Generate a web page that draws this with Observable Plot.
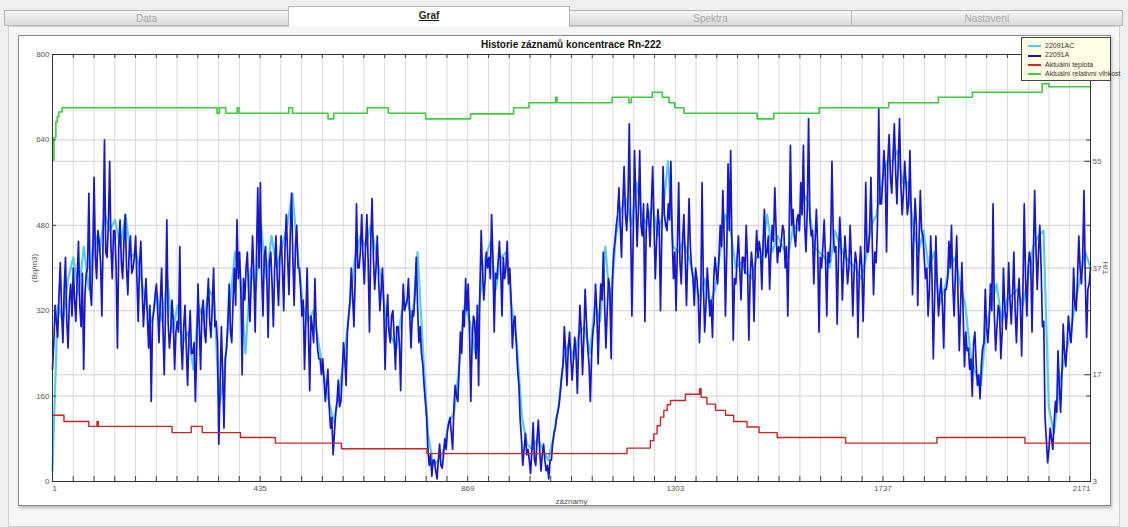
<!DOCTYPE html>
<html><head><meta charset="utf-8">
<script src="https://cdn.jsdelivr.net/npm/d3@7"></script>
<script src="https://cdn.jsdelivr.net/npm/@observablehq/plot@0.6"></script>
<style>
body{margin:0;width:1128px;height:527px;background:#efefef;font-family:"Liberation Sans",Arial,sans-serif;position:relative;overflow:hidden}
.tab{position:absolute;top:10px;height:16px;background:linear-gradient(#f6f6f6,#d9d9d9);border:1px solid #b8b8b8;color:#a8a8a8;font-size:10px;text-align:center;line-height:15px;box-sizing:border-box}
.tab.active{top:6px;height:21px;background:#fff;color:#222;font-weight:bold;text-decoration:underline;border-bottom:none;line-height:18px;z-index:2}
#panel{position:absolute;left:8px;top:26px;width:1112px;height:501px;background:#f6f6f6;border:1px solid #cfcfcf;box-sizing:border-box}
#box{position:absolute;left:18px;top:35px;width:1093px;height:471px;background:#fff;border:1px solid #8a8a8a;box-sizing:border-box;box-shadow:1px 2px 3px rgba(0,0,0,.25)}
#chart{position:absolute;left:18px;top:35px}
#title{position:absolute;left:371px;width:400px;top:39px;text-align:center;font-size:10px;font-weight:bold;color:#111}
#legend{position:absolute;left:1021px;top:37px;width:90px;height:44px;background:#fffde3;border:1px solid #444;box-sizing:border-box;font-size:7px;color:#333;padding-top:3px}
#legend div{height:9.4px;line-height:9.4px;white-space:nowrap}
#legend span{display:inline-block;width:13px;height:2px;vertical-align:middle;margin:0 4px 0 6px}
</style></head>
<body>
<div id="panel"></div>
<div class="tab" style="left:4px;width:285px">Data</div>
<div class="tab active" style="left:288px;width:282px">Graf</div>
<div class="tab" style="left:569px;width:283px">Spektra</div>
<div class="tab" style="left:851px;width:272px">Nastavení</div>
<div id="box"></div>
<div id="chart"></div>
<div id="title">Historie záznamů koncentrace Rn-222</div>
<div id="legend"></div>
<script>
// ---- data ----
const seriesNames = ["22091AC", "22091A", "Aktuální teplota", "Aktuální relativní vlhkost"];
const seriesColors = ["#55cdea", "#14149a", "#d42a2a", "#3fcb3f"];

// 22091A (Bq/m3), evenly spaced over records 1..2171 (16 readings per grid cell)
const valuesA = [
210,260,330,300,270,350,410,320,260,360,420,300,250,340,370,310,
400,340,300,380,450,330,290,390,210,350,390,400,540,360,330,420,
570,420,380,470,450,410,310,460,640,430,420,480,600,440,380,470,
470,400,250,440,490,410,380,450,500,400,350,430,460,390,400,420,
460,380,300,410,450,360,290,340,380,310,250,330,150,300,320,350,
370,320,260,340,400,290,200,320,490,300,250,280,340,300,210,280,
300,280,440,260,210,290,330,250,180,270,320,240,240,260,150,250,
370,290,210,320,340,280,260,330,380,300,270,330,400,290,300,260,
70,180,290,200,100,230,250,300,370,280,260,340,400,330,490,380,
430,360,200,380,340,400,430,350,300,380,460,390,280,420,550,400,
560,390,310,420,440,380,270,410,430,370,290,400,460,380,330,420,
460,400,320,440,500,420,350,460,540,420,330,440,480,400,400,360,
310,340,210,300,400,280,170,310,290,260,380,290,250,230,230,200,
230,190,150,180,210,140,100,120,50,90,130,150,190,140,150,200,
260,230,180,280,310,340,400,350,290,380,520,400,400,430,500,420,
370,440,500,410,280,450,530,420,360,400,460,380,320,360,400,330,
210,300,350,280,260,310,320,270,210,290,290,260,170,300,370,320,
330,340,380,310,250,320,310,350,420,330,260,290,240,220,180,150,
120,60,30,50,10,40,40,20,5,40,70,30,25,50,80,60,
95,110,120,90,60,140,180,160,150,210,280,240,320,290,380,320,
370,280,150,260,310,300,230,330,180,360,470,390,340,380,430,400,
420,380,500,420,280,390,380,410,450,400,310,420,380,400,450,370,
400,340,250,300,310,260,210,180,115,80,30,60,90,50,60,40,
15,60,110,40,30,80,115,60,20,50,70,40,20,30,5,40,
40,70,90,100,120,130,145,170,200,220,290,240,180,250,280,230,
190,230,270,240,165,260,330,280,200,270,360,300,250,220,150,240,
280,300,370,320,220,310,370,340,430,330,250,320,380,360,230,380,
430,450,480,500,550,480,420,520,590,500,470,530,670,480,310,460,
620,530,440,510,620,480,460,520,300,470,520,490,440,520,590,480,
380,450,510,480,320,460,590,500,480,470,520,490,600,460,380,430,
320,440,560,410,370,450,500,420,330,430,530,440,400,380,330,400,
380,350,260,340,560,370,280,330,400,360,310,340,270,380,420,390,
370,420,480,440,545,460,310,430,595,470,620,440,265,380,370,420,
460,400,340,420,420,390,480,410,265,380,430,400,300,410,470,420,
450,430,360,450,510,420,430,460,360,430,480,450,550,470,410,440,
430,450,480,470,400,440,310,460,630,480,510,460,440,490,500,470,
560,500,630,480,430,510,680,490,460,470,370,450,510,440,280,420,
400,440,490,420,310,430,410,450,600,460,430,440,295,420,495,440,
340,410,460,420,370,400,480,410,310,390,430,410,270,390,440,400,
300,400,560,430,430,470,570,450,350,430,410,480,700,520,520,560,
620,580,430,600,650,570,540,610,670,580,520,600,680,560,500,540,
600,560,500,520,620,500,350,460,530,480,330,450,545,470,460,420,
380,400,310,360,460,380,230,340,460,370,310,350,380,330,250,360,
360,380,450,400,480,370,310,390,460,350,245,330,410,310,215,280,
245,250,210,230,160,260,280,220,180,200,155,220,250,260,360,290,
260,300,370,320,520,310,245,290,330,320,230,280,400,330,285,320,
410,340,295,350,430,320,260,340,380,330,235,360,520,380,310,400,
430,410,280,420,545,440,360,430,480,400,290,300,120,80,35,60,
100,80,60,110,150,130,245,180,130,200,295,240,215,260,310,280,
260,300,400,330,320,380,460,400,370,420,545,380,270,360,370,400
];

// 22091AC (Bq/m3), evenly spaced over records 1..2171
const valuesAC = [
20,330,300,380, 420,350,440,360, 470,430,500,470, 490,440,500,420,
430,380,330,300, 350,300,380,280, 330,260,280,210, 330,300,360,340,
140,210,330,430, 380,240,400,360, 480,380,460,400, 440,480,540,430,
330,300,320,260, 200,150,110,170, 240,330,420,460, 440,480,430,380,
300,270,250,320, 340,300,430,250, 90,30,40,60, 110,130,220,330,
300,240,350,420, 450,360,420,430, 330,260,120,70, 60,80,60,40,
80,140,230,260, 230,280,290,240, 330,300,440,320, 460,510,530,480,
560,500,480,520, 460,500,600,440, 430,450,420,380, 340,380,330,360,
430,500,470,400, 410,390,380,420, 420,500,430,460, 440,420,480,470,
540,520,440,430, 420,400,470,440, 420,410,400,380, 420,480,500,560,
600,600,620,560, 560,480,430,470, 400,430,330,360, 400,420,370,330,
240,200,180,290, 330,370,300,340, 350,360,330,380, 440,460,470,140,
90,180,230,270, 330,380,430,400
];

// Aktuální teplota: change points (record, T/H units)
const tempRec = [1,25,77,94,97,251,291,314,394,467,605,784,1202,1251,1258,1265,1272,1279,1286,1293,1324,1354,1357,1369,1387,1408,1425,1453,1478,1516,1659,1850,2034,2171];
const tempVal = [13.7,12.7,11.9,12.7,11.9,10.9,11.9,10.9,10.1,9.2,8.3,7.5,8.4,9.6,10.7,12.0,13.4,14.5,15.4,16.1,17.1,18.0,16.6,15.5,14.5,13.7,12.7,11.8,10.9,10.1,9.2,10.1,9.2,9.2];

// Aktuální relativní vlhkost: change points (record, T/H units)
const humRec = [1,4,8,11,14,21,345,350,363,387,391,495,503,577,589,659,703,781,875,965,997,1053,1056,1171,1206,1211,1255,1276,1290,1302,1321,1474,1509,1604,1749,1853,1924,2070,2084,2171];
const humVal = [54.9,58.6,61.1,61.9,62.7,63.4,62.5,63.4,62.5,63.4,62.5,63.4,62.5,61.6,62.5,63.4,62.5,61.6,62.4,63.4,64.2,65.1,64.2,65.1,64.2,65.1,65.9,65.1,64.2,63.4,62.5,61.6,62.5,63.4,64.2,65.1,65.9,67.3,66.8,66.8];

// axis ticks
const xTickLabels = [1, 435, 869, 1303, 1737, 2171];
const yTicksLeft = [0, 160, 320, 480, 640, 800];
const yTicksRightPos = [0, 200, 400, 600];
const yTicksRightLabels = ["3", "17", "37", "55"];

// ---- build ----
const recMin = 1, recMax = 2171;
const even = (arr) => arr.map((v, i) => ({rec: recMin + i * (recMax - recMin) / (arr.length - 1), v}));
const dataA = even(valuesA);
const dataAC = even(valuesAC);
const dataT = tempRec.map((r, i) => ({rec: r, v: tempVal[i]}));
const dataH = humRec.map((r, i) => ({rec: r, v: humVal[i]}));
const th = d3.scaleLinear([3, 72], [0, 800]); // T/H -> left axis units

const gridRecs = d3.range(51).map(k => recMin + k * (recMax - recMin) / 50);
const W = 1093, H = 471, mL = 34, mR = 21, mT = 19, mB = 25;
const pw = W - mL - mR, ph = H - mT - mB;
const font = "Liberation Sans, Arial, sans-serif";
const fmt = d => String(d);

const chart = Plot.plot({
  width: W, height: H,
  marginLeft: mL, marginRight: mR, marginTop: mT, marginBottom: mB,
  style: {fontFamily: font, fontSize: "8px", color: "#555", background: "transparent", overflow: "visible"},
  x: {domain: [recMin, recMax]},
  y: {domain: [0, 800]},
  marks: [
    Plot.gridX(gridRecs, {stroke: "#d9d9d9", strokeOpacity: 1}),
    Plot.gridY([160, 320, 480, 640, 200, 400, 600], {stroke: "#d0d0d0", strokeOpacity: 1}),
    Plot.line(dataAC, {x: "rec", y: "v", stroke: seriesColors[0], strokeWidth: 2.2}),
    Plot.line(dataA, {x: "rec", y: "v", stroke: "#1717cc", strokeWidth: 1.7}),
    Plot.line(dataT, {x: "rec", y: d => th(d.v), curve: "step-after", stroke: "#cc2424", strokeWidth: 1.4}),
    Plot.line(dataH, {x: "rec", y: d => th(d.v), curve: "step-after", stroke: "#3ccb3c", strokeWidth: 1.6}),
    Plot.tickX(gridRecs, {x: d => d, insetTop: ph - 5, stroke: "#444"}),
    Plot.tickX(gridRecs, {x: d => d, insetBottom: ph - 4, stroke: "#444"}),
    Plot.tickY(yTicksLeft, {y: d => d, insetRight: pw - 4, stroke: "#444"}),
    Plot.tickY([160, 320, 480, 640], {y: d => d, insetLeft: pw - 4, stroke: "#444"}),
    Plot.tickY(yTicksRightPos, {y: d => d, insetLeft: pw - 6, stroke: "#444"}),
    Plot.frame({stroke: "#333"}),
    Plot.axisX([xTickLabels[0]], {tickSize: 0, tickPadding: 4, textAnchor: "start", tickFormat: fmt, label: null}),
    Plot.axisX(xTickLabels.slice(1, -1), {tickSize: 0, tickPadding: 4, tickFormat: fmt, label: "záznamy", labelAnchor: "center", labelOffset: 22, labelArrow: "none"}),
    Plot.axisX([xTickLabels[xTickLabels.length - 1]], {tickSize: 0, tickPadding: 4, textAnchor: "end", tickFormat: fmt, label: null}),
    Plot.axisY(yTicksLeft, {anchor: "left", tickSize: 0, tickPadding: 3, tickFormat: fmt, label: "(Bq/m3)", labelAnchor: "center", labelOffset: 21, labelArrow: "none"}),
    Plot.axisY(yTicksRightPos, {anchor: "right", tickSize: 0, tickPadding: 2, tickFormat: d => yTicksRightLabels[yTicksRightPos.indexOf(d)], label: "T/H", labelAnchor: "center", labelOffset: 17, labelArrow: "none"})
  ]
});
document.getElementById("chart").appendChild(chart);

// legend
const lg = document.getElementById("legend");
seriesNames.forEach((n, i) => {
  const row = document.createElement("div");
  row.innerHTML = `<span style="background:${seriesColors[i]}"></span>${n}`;
  lg.appendChild(row);
});
</script>
</body></html>
